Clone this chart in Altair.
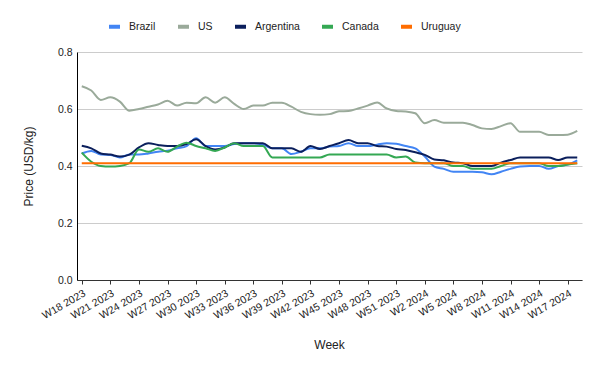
import altair as alt
import pandas as pd

weeks = [
    "W18 2023", "W19 2023", "W20 2023", "W21 2023", "W22 2023", "W23 2023", "W24 2023",
    "W25 2023", "W26 2023", "W27 2023", "W28 2023", "W29 2023", "W30 2023", "W31 2023",
    "W32 2023", "W33 2023", "W34 2023", "W35 2023", "W36 2023", "W37 2023", "W38 2023",
    "W39 2023", "W40 2023", "W41 2023", "W42 2023", "W43 2023", "W44 2023", "W45 2023",
    "W46 2023", "W47 2023", "W48 2023", "W49 2023", "W50 2023", "W51 2023", "W52 2023",
    "W1 2024", "W2 2024", "W3 2024", "W4 2024", "W5 2024", "W6 2024", "W7 2024",
    "W8 2024", "W9 2024", "W10 2024", "W11 2024", "W12 2024", "W13 2024", "W14 2024",
    "W15 2024", "W16 2024", "W17 2024", "W18 2024",
]

brazil = [0.444, 0.453, 0.44, 0.439, 0.43, 0.44, 0.44, 0.444, 0.45, 0.454, 0.462, 0.47,
          0.497, 0.47, 0.47, 0.47, 0.477, 0.48, 0.48, 0.475, 0.462, 0.462, 0.442, 0.45,
          0.462, 0.462, 0.468, 0.47, 0.48, 0.47, 0.47, 0.475, 0.48, 0.478, 0.47, 0.462,
          0.433, 0.398, 0.39, 0.38, 0.38, 0.38, 0.378, 0.371, 0.38, 0.39, 0.398, 0.40,
          0.40, 0.39, 0.40, 0.405, 0.42]
us = [0.68, 0.665, 0.632, 0.641, 0.626, 0.594, 0.60, 0.608, 0.616, 0.629, 0.612, 0.622,
      0.62, 0.641, 0.622, 0.641, 0.618, 0.60, 0.612, 0.612, 0.622, 0.622, 0.608, 0.59,
      0.582, 0.58, 0.582, 0.592, 0.593, 0.602, 0.612, 0.623, 0.602, 0.593, 0.591, 0.585,
      0.55, 0.561, 0.552, 0.552, 0.552, 0.544, 0.532, 0.53, 0.54, 0.55, 0.52, 0.52,
      0.52, 0.509, 0.509, 0.51, 0.523]
argentina = [0.471, 0.462, 0.444, 0.44, 0.433, 0.44, 0.465, 0.48, 0.474, 0.47, 0.47, 0.477,
             0.494, 0.47, 0.458, 0.465, 0.48, 0.48, 0.48, 0.48, 0.462, 0.462, 0.462, 0.45,
             0.47, 0.46, 0.47, 0.48, 0.491, 0.48, 0.48, 0.47, 0.468, 0.46, 0.456, 0.448,
             0.439, 0.423, 0.42, 0.412, 0.41, 0.40, 0.40, 0.40, 0.412, 0.421, 0.43, 0.43,
             0.43, 0.43, 0.421, 0.43, 0.43]
canada = [0.447, 0.415, 0.40, 0.398, 0.40, 0.41, 0.458, 0.45, 0.462, 0.45, 0.468, 0.482,
          0.47, 0.462, 0.453, 0.465, 0.48, 0.47, 0.47, 0.47, 0.43, 0.43, 0.43, 0.43,
          0.43, 0.43, 0.44, 0.44, 0.44, 0.44, 0.44, 0.44, 0.44, 0.43, 0.433, 0.412,
          0.41, 0.41, 0.41, 0.40, 0.40, 0.39, 0.39, 0.39, 0.40, 0.41, 0.41, 0.41,
          0.41, 0.40, 0.40, 0.405, 0.41]
uruguay = [0.41] * len(weeks)

series_names = ["Brazil", "US", "Argentina", "Canada", "Uruguay"]
series_values = [brazil, us, argentina, canada, uruguay]
series_colors = ["#4285F4", "#9AAA9A", "#0B1F5C", "#34A853", "#FF6D01"]

tick_weeks = weeks[::3]

rows = []
for name, vals in zip(series_names, series_values):
    for wk, v in zip(weeks, vals):
        rows.append({"Week": wk, "Price": v, "Country": name})
df = pd.DataFrame(rows)

FONT = "Liberation Sans"

chart = alt.Chart(df).mark_line(
    strokeWidth=2, interpolate="monotone"
).encode(
    x=alt.X(
        "Week:O",
        scale=alt.Scale(domain=weeks, type="point", padding=0.5),
        axis=alt.Axis(
            values=tick_weeks, title="Week", labelAngle=-30, labelAlign="right",
            labelBaseline="top", labelPadding=4, tickSize=4, tickColor="#333333",
            domainColor="#333333", grid=False, labelOverlap=False, labelFlush=False,
            labelFontSize=10.5, labelColor="#222222", titleFontSize=12,
            titleFontWeight="normal", titleColor="#222222",
            titleX=252, titleY=64, titleBaseline="middle",
        ),
    ),
    y=alt.Y(
        "Price:Q",
        scale=alt.Scale(domain=[0, 0.8], nice=False, zero=True),
        axis=alt.Axis(
            values=[0, 0.2, 0.4, 0.6, 0.8], format=".1f", title="Price (USD/kg)",
            ticks=False, domainColor="#000000", gridColor="#cccccc",
            labelFontSize=10.5, labelColor="#222222", labelPadding=5,
            titleFontSize=12, titleFontWeight="normal", titleColor="#222222",
            titleX=-49, titleY=114, titleAngle=-90, titleBaseline="middle",
        ),
    ),
    color=alt.Color(
        "Country:N",
        scale=alt.Scale(domain=series_names, range=series_colors),
        legend=alt.Legend(
            title=None, orient="none", direction="horizontal", legendX=30, legendY=-33,
            symbolType="stroke", symbolSize=121, symbolStrokeWidth=4,
            labelFontSize=10.5, labelColor="#222222", labelOffset=7, columnPadding=14,
        ),
    ),
).properties(
    width=505, height=228,
    autosize=alt.AutoSizeParams(type="none"),
    padding={"left": 69, "top": 44, "right": 10, "bottom": 83},
).configure(
    font=FONT,
).configure_view(
    stroke=None,
)

chart.save("out.html", embed_options={"renderer": "svg", "actions": False})
